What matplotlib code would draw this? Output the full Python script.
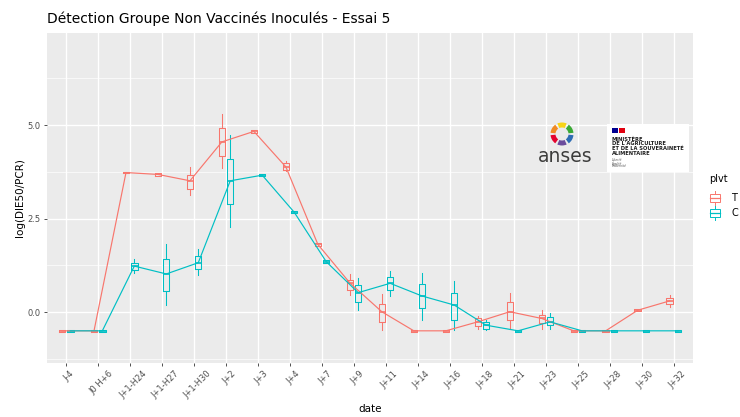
import numpy as np
import matplotlib
matplotlib.use("Agg")
import matplotlib.pyplot as plt
from matplotlib.patches import Rectangle, Wedge
import matplotlib.transforms as mtransforms

dates = ["J-4", "J0 H+6", "J+1-H24", "J+1-H27", "J+1-H30", "J+2", "J+3", "J+4",
         "J+7", "J+9", "J+11", "J+14", "J+16", "J+18", "J+21", "J+23", "J+25",
         "J+28", "J+30", "J+32"]

# plvt T
T_med = [-0.50, -0.50, 3.73, 3.68, 3.51, 4.55, 4.83, 3.88, 1.81, 0.78, 0.01, -0.50, -0.50, -0.26, 0.01, -0.17, -0.50, -0.50, 0.05, 0.30]
T_q1 = [-0.52, -0.52, 3.71, 3.65, 3.29, 4.17, 4.80, 3.80, 1.77, 0.59, -0.26, -0.52, -0.52, -0.37, -0.21, -0.30, -0.52, -0.52, 0.03, 0.21]
T_q3 = [-0.48, -0.48, 3.75, 3.71, 3.66, 4.93, 4.86, 3.99, 1.85, 0.86, 0.23, -0.48, -0.48, -0.17, 0.28, -0.08, -0.48, -0.48, 0.08, 0.39]
T_lo = [-0.52, -0.52, 3.71, 3.65, 3.13, 3.84, 4.80, 3.76, 1.77, 0.45, -0.48, -0.52, -0.52, -0.44, -0.44, -0.44, -0.52, -0.52, 0.03, 0.14]
T_hi = [-0.48, -0.48, 3.75, 3.71, 3.87, 5.29, 4.86, 4.03, 1.85, 1.03, 0.48, -0.48, -0.48, -0.11, 0.52, 0.05, -0.48, -0.48, 0.08, 0.45]

# plvt C
C_med = [-0.50, -0.50, 1.23, 1.02, 1.32, 3.51, 3.66, 2.67, 1.35, 0.52, 0.77, 0.43, 0.19, -0.35, -0.50, -0.26, -0.50, -0.50, -0.50, -0.50]
C_q1 = [-0.52, -0.52, 1.12, 0.57, 1.14, 2.89, 3.63, 2.64, 1.32, 0.28, 0.59, 0.10, -0.20, -0.44, -0.52, -0.35, -0.52, -0.52, -0.52, -0.52]
C_q3 = [-0.48, -0.48, 1.32, 1.41, 1.51, 4.09, 3.69, 2.70, 1.38, 0.72, 0.93, 0.74, 0.52, -0.26, -0.48, -0.12, -0.48, -0.48, -0.48, -0.48]
C_lo = [-0.52, -0.52, 1.05, 0.19, 0.99, 2.28, 3.63, 2.64, 1.32, 0.05, 0.43, -0.20, -0.48, -0.48, -0.52, -0.44, -0.52, -0.52, -0.52, -0.52]
C_hi = [-0.48, -0.48, 1.41, 1.82, 1.68, 4.73, 3.69, 2.70, 1.38, 0.90, 1.10, 1.05, 0.84, -0.20, -0.48, -0.03, -0.48, -0.48, -0.48, -0.48]

legend_labels = ["T", "C"]
colors = ["#F8766D", "#00BFC4"]

W, H = 740, 417
fig = plt.figure(figsize=(W / 100, H / 100), dpi=100)
fig.patch.set_facecolor("white")

L, R, B, T = 47, 693, 363, 33
ax = fig.add_axes([L / W, 1 - B / H, (R - L) / W, (B - T) / H])
ax.set_facecolor("#EBEBEB")
for s in ax.spines.values():
    s.set_visible(False)

x = np.arange(1, len(dates) + 1)
offsets = [-0.13, 0.13]
series = [(T_med, T_q1, T_q3, T_lo, T_hi), (C_med, C_q1, C_q3, C_lo, C_hi)]

for (med, q1, q3, lo, hi), off, col in zip(series, offsets, colors):
    pos = x + off
    stats = [dict(med=m, q1=a, q3=b, whislo=l, whishi=h, fliers=[])
             for m, a, b, l, h in zip(med, q1, q3, lo, hi)]
    ax.bxp(stats, positions=pos, widths=0.2, showfliers=False, showcaps=False,
           manage_ticks=False,
           boxprops=dict(color=col, linewidth=0.75),
           whiskerprops=dict(color=col, linewidth=0.75),
           medianprops=dict(color=col, linewidth=1.2))
    ax.plot(pos, med, color=col, linewidth=0.85, zorder=3)

ax.set_xlim(0.4, 20.6)
ax.set_ylim(-1.36, 7.46)
ax.set_xticks(x)
ax.set_xticklabels(dates)
ax.set_yticks([0, 2.5, 5.0])
ax.set_yticklabels(["0.0", "2.5", "5.0"])
ax.set_yticks([-1.25, 1.25, 3.75, 6.25], minor=True)
ax.grid(True, which="major", color="white", linewidth=1.0)
ax.grid(True, which="minor", axis="y", color="white", linewidth=0.5)
ax.set_axisbelow(True)
ax.tick_params(axis="both", which="major", color="#333333", length=2.5, width=0.6,
               labelsize=6, labelcolor="#4D4D4D", pad=2)
ax.tick_params(axis="y", which="minor", length=0)
offset = mtransforms.ScaledTranslation(3 / 100, 0, fig.dpi_scale_trans)
for lab in ax.get_xticklabels():
    lab.set_rotation(45)
    lab.set_ha("center")
    lab.set_va("top")
    lab.set_transform(lab.get_transform() + offset)

# titles
fig.text(47 / W, 1 - 19 / H, "Détection Groupe Non Vaccinés Inoculés - Essai 5",
         fontsize=10, ha="left", va="center", color="black")
fig.text(20 / W, 1 - 198 / H, "log(DIE50/PCR)", rotation=90, fontsize=7.5,
         ha="center", va="center", color="black")
fig.text(370 / W, 1 - 409 / H, "date", fontsize=7.5, ha="center", va="center", color="black")

# overlay in pixel coordinates for legend and logo
ov = fig.add_axes([0, 0, 1, 1], zorder=10)
ov.set_xlim(0, W)
ov.set_ylim(H, 0)
ov.axis("off")
ov.patch.set_alpha(0)

# legend
ov.text(709, 179, "plvt", fontsize=7, ha="left", va="center", color="black")
for i, (lab, col) in enumerate(zip(legend_labels, colors)):
    cy = 198 + i * 15
    ov.add_patch(Rectangle((710, cy - 4), 10, 8, facecolor="white", edgecolor=col, linewidth=0.7))
    ov.plot([710, 720], [cy, cy], color=col, linewidth=0.9)
    ov.plot([715, 715], [cy - 7, cy - 4], color=col, linewidth=0.7)
    ov.plot([715, 715], [cy + 4, cy + 7], color=col, linewidth=0.7)
    ov.text(731, cy, lab, fontsize=7, ha="left", va="center", color="black")

# anses logo
ring_cols = ["#F7D417", "#3AAA35", "#2E6DB4", "#6A4C9C", "#E4032E", "#F08A24"]
for k, c in enumerate(ring_cols):
    a0 = -90 - 30 + k * 60 + 6
    ov.add_patch(Wedge((562, 134), 11.5, a0, a0 + 48, width=5, facecolor=c, edgecolor="none"))
ov.text(565, 156, "anses", fontsize=13.5, ha="center", va="center", color="#3C3C3B")

ov.add_patch(Rectangle((607, 124), 82, 48, facecolor="white", edgecolor="none"))
ov.add_patch(Rectangle((612, 128), 6, 5, facecolor="#000091", edgecolor="none"))
ov.add_patch(Rectangle((619, 128), 6, 5, facecolor="#E1000F", edgecolor="none"))
for j, line in enumerate(["MINISTÈRE", "DE L'AGRICULTURE", "ET DE LA SOUVERAINETÉ", "ALIMENTAIRE"]):
    ov.text(612, 139 + j * 4.8, line, fontsize=3.7, fontweight="bold", ha="left", va="center", color="#1E1E1E")
for j, line in enumerate(["Liberté", "Égalité", "Fraternité"]):
    ov.text(612, 160 + j * 3.2, line, fontsize=2.2, ha="left", va="center", color="#555555", style="italic")

fig.savefig("out.png", dpi=100)
